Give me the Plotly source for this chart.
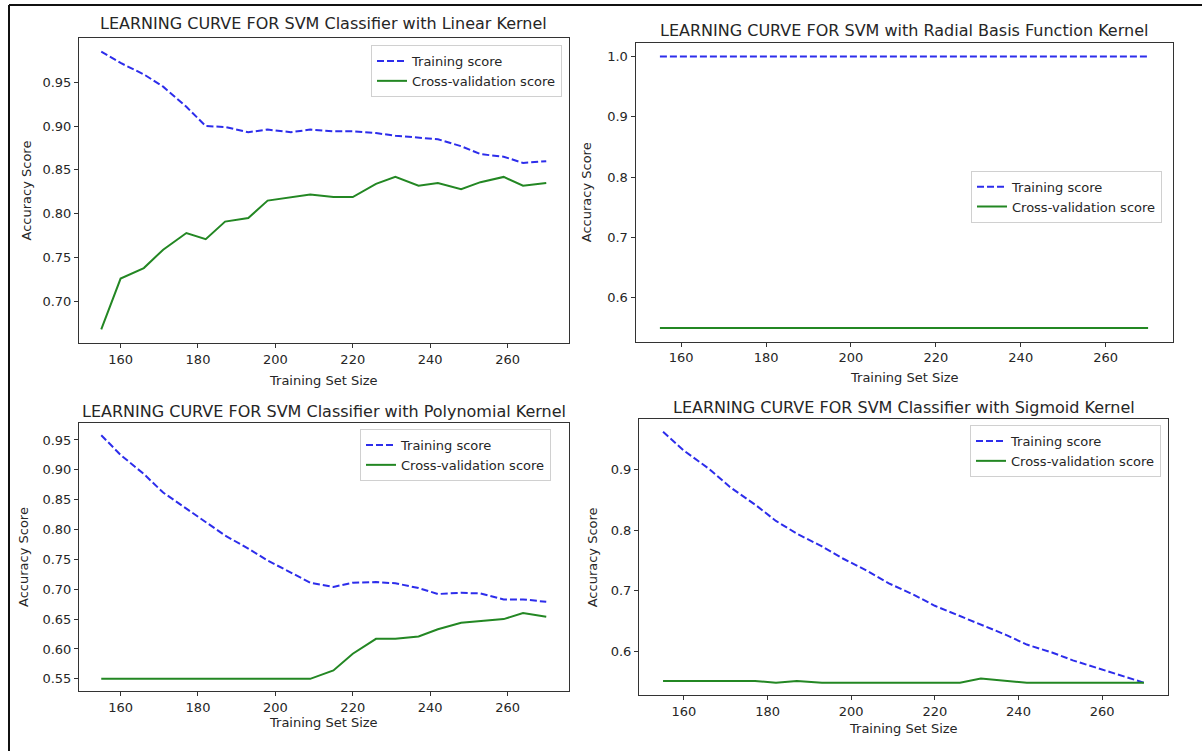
import plotly.graph_objects as go

# Training set sizes used by the learning curves
train_sizes = [155, 160, 166, 171, 177, 182, 187, 193, 198, 204, 209,
               215, 220, 226, 231, 237, 242, 248, 253, 259, 264, 270]

# Linear kernel
linear_train = [0.985, 0.972, 0.959, 0.945, 0.922, 0.900, 0.899, 0.893, 0.896, 0.893, 0.896,
                0.894, 0.894, 0.892, 0.889, 0.887, 0.885, 0.877, 0.868, 0.865, 0.858, 0.860]
linear_cv = [0.668, 0.726, 0.738, 0.759, 0.778, 0.771, 0.791, 0.795, 0.815, 0.819, 0.822,
             0.819, 0.819, 0.834, 0.842, 0.832, 0.835, 0.828, 0.836, 0.842, 0.832, 0.835]

# Radial basis function kernel
rbf_train = [1.0, 1.0, 1.0, 1.0, 1.0, 1.0, 1.0, 1.0, 1.0, 1.0, 1.0,
             1.0, 1.0, 1.0, 1.0, 1.0, 1.0, 1.0, 1.0, 1.0, 1.0, 1.0]
rbf_cv = [0.55, 0.55, 0.55, 0.55, 0.55, 0.55, 0.55, 0.55, 0.55, 0.55, 0.55,
          0.55, 0.55, 0.55, 0.55, 0.55, 0.55, 0.55, 0.55, 0.55, 0.55, 0.55]

# Polynomial kernel
poly_train = [0.958, 0.925, 0.893, 0.862, 0.835, 0.812, 0.790, 0.768, 0.748, 0.728, 0.711,
              0.704, 0.711, 0.712, 0.710, 0.702, 0.692, 0.694, 0.693, 0.683, 0.683, 0.679]
poly_cv = [0.55, 0.55, 0.55, 0.55, 0.55, 0.55, 0.55, 0.55, 0.55, 0.55, 0.55,
           0.564, 0.592, 0.617, 0.617, 0.621, 0.633, 0.644, 0.647, 0.650, 0.660, 0.654]

# Sigmoid kernel
sig_train = [0.962, 0.931, 0.901, 0.871, 0.842, 0.815, 0.794, 0.773, 0.753, 0.732, 0.712,
             0.693, 0.675, 0.658, 0.643, 0.627, 0.611, 0.598, 0.585, 0.572, 0.560, 0.548]
sig_cv = [0.551, 0.551, 0.551, 0.551, 0.551, 0.548, 0.551, 0.548, 0.548, 0.548, 0.548,
          0.548, 0.548, 0.548, 0.555, 0.551, 0.548, 0.548, 0.548, 0.548, 0.548, 0.548]

x_ticks = [160, 180, 200, 220, 240, 260]

W, H = 1202, 751
FONT = "DejaVu Sans"
TXT = "#262626"
BLUE = "rgb(45,45,235)"
GREEN = "rgb(35,135,35)"


def px_x(v):
    return v / W


def px_y(v):
    return 1 - v / H


# panel: title, train, cv, y ticks, tick format, box (left, right, top, bottom) in px,
#        title y, xlabel y, ylabel x, legend (right, top)
panels = [
    dict(title="LEARNING CURVE FOR SVM Classifier with Linear Kernel",
         train=linear_train, cv=linear_cv,
         yticks=[0.70, 0.75, 0.80, 0.85, 0.90, 0.95], fmt="%.2f",
         box=(79, 568.5, 37.7, 343.3), ty=23.5, xl=380.5, yl=26, leg=(562, 45)),
    dict(title="LEARNING CURVE FOR SVM with Radial Basis Function Kernel",
         train=rbf_train, cv=rbf_cv,
         yticks=[0.6, 0.7, 0.8, 0.9, 1.0], fmt="%.1f",
         box=(635.5, 1172.5, 42.8, 341.7), ty=30.5, xl=377.5, yl=586, leg=(1162, 170.7)),
    dict(title="LEARNING CURVE FOR SVM Classifier with Polynomial Kernel",
         train=poly_train, cv=poly_cv,
         yticks=[0.55, 0.60, 0.65, 0.70, 0.75, 0.80, 0.85, 0.90, 0.95], fmt="%.2f",
         box=(79, 568.5, 423, 691), ty=411.3, xl=722.5, yl=23, leg=(551, 429)),
    dict(title="LEARNING CURVE FOR SVM Classifier with Sigmoid Kernel",
         train=sig_train, cv=sig_cv,
         yticks=[0.6, 0.7, 0.8, 0.9], fmt="%.1f",
         box=(639, 1168, 419.3, 695.3), ty=407.5, xl=728, yl=592, leg=(1161, 425)),
]

fig = go.Figure()
annotations = []
layout_axes = {}

for i, p in enumerate(panels, start=1):
    sfx = "" if i == 1 else str(i)
    leg = "legend" if i == 1 else f"legend{i}"
    left, right, top, bottom = p["box"]

    fig.add_trace(go.Scatter(
        x=train_sizes, y=p["train"], mode="lines", name="Training score",
        line=dict(color=BLUE, width=2, dash="7px,3px"),
        xaxis=f"x{sfx}", yaxis=f"y{sfx}", legend=leg))
    fig.add_trace(go.Scatter(
        x=train_sizes, y=p["cv"], mode="lines", name="Cross-validation score",
        line=dict(color=GREEN, width=2),
        xaxis=f"x{sfx}", yaxis=f"y{sfx}", legend=leg))

    # 5% padding around the data, as in the default autoscaling
    ys = p["train"] + p["cv"]
    lo, hi = min(ys), max(ys)
    pad = (hi - lo) * 0.05
    xs_lo, xs_hi = min(train_sizes), max(train_sizes)
    xpad = (xs_hi - xs_lo) * 0.05

    common = dict(showgrid=False, zeroline=False, showline=True, mirror=True,
                  linecolor="#333", linewidth=1, ticks="outside", ticklen=4,
                  tickcolor="#333", tickfont=dict(family=FONT, size=13, color=TXT))
    layout_axes[f"xaxis{sfx}"] = dict(
        domain=[px_x(left), px_x(right)], anchor=f"y{sfx}",
        range=[xs_lo - xpad, xs_hi + xpad], tickvals=x_ticks, **common)
    layout_axes[f"yaxis{sfx}"] = dict(
        domain=[px_y(bottom), px_y(top)], anchor=f"x{sfx}",
        range=[lo - pad, hi + pad], tickvals=p["yticks"],
        ticktext=[p["fmt"] % v for v in p["yticks"]], **common)

    layout_axes[leg] = dict(
        x=px_x(p["leg"][0]), y=px_y(p["leg"][1]), xanchor="right", yanchor="top",
        bgcolor="rgba(255,255,255,0.85)", bordercolor="#d0d0d0", borderwidth=1,
        font=dict(family=FONT, size=13, color=TXT), tracegroupgap=0)

    cx = (left + right) / 2
    annotations.append(dict(text=p["title"], x=px_x(cx), y=px_y(p["ty"]),
                            xref="paper", yref="paper", showarrow=False,
                            xanchor="center", yanchor="middle",
                            font=dict(family=FONT, size=16, color=TXT)))
    annotations.append(dict(text="Training Set Size", x=px_x(cx), y=px_y(p["xl"]),
                            xref="paper", yref="paper", showarrow=False,
                            xanchor="center", yanchor="middle",
                            font=dict(family=FONT, size=13, color=TXT)))
    annotations.append(dict(text="Accuracy Score", x=px_x(p["yl"]),
                            y=px_y((top + bottom) / 2),
                            xref="paper", yref="paper", showarrow=False, textangle=-90,
                            xanchor="center", yanchor="middle",
                            font=dict(family=FONT, size=13, color=TXT)))

# outer frame lines (left and top edges)
shapes = [
    dict(type="line", xref="paper", yref="paper", x0=px_x(9), x1=px_x(9),
         y0=0, y1=px_y(5), line=dict(color="#111", width=2)),
    dict(type="line", xref="paper", yref="paper", x0=px_x(9), x1=1,
         y0=px_y(5), y1=px_y(5), line=dict(color="#111", width=2)),
]

fig.update_layout(
    width=W, height=H, margin=dict(l=0, r=0, t=0, b=0),
    paper_bgcolor="white", plot_bgcolor="white",
    showlegend=True, annotations=annotations, shapes=shapes,
    **layout_axes)

fig.write_html("out.html")
